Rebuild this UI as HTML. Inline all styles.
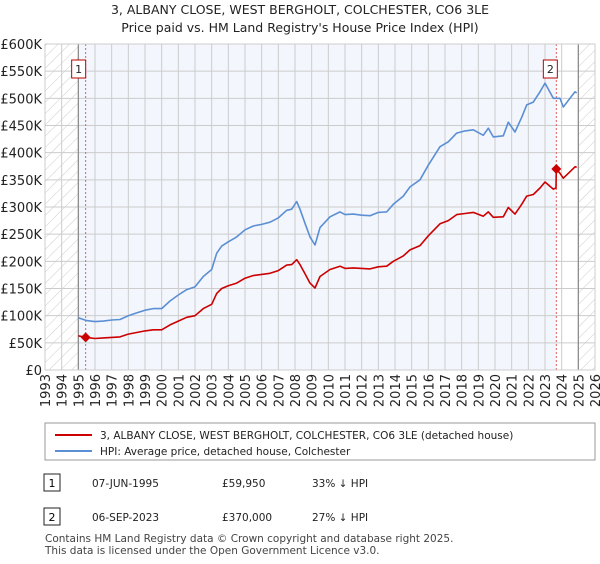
<!DOCTYPE html>
<html><head><meta charset="utf-8"><style>
body{margin:0;background:#fff;font-family:"DejaVu Sans",sans-serif;}
svg text{font-family:"DejaVu Sans","Liberation Sans",sans-serif;}
</style></head><body>
<svg id="c" width="600" height="560" viewBox="0 0 600 560" xmlns="http://www.w3.org/2000/svg">
<defs><pattern id="h" width="8" height="8" patternUnits="userSpaceOnUse" patternTransform="rotate(45)"><line x1="0" y1="0" x2="0" y2="8" stroke="#ccc" stroke-width="1"/></pattern></defs>
<text x="300" y="14" text-anchor="middle" font-size="12.5" fill="#222">3, ALBANY CLOSE, WEST BERGHOLT, COLCHESTER, CO6 3LE</text>
<text x="300" y="32" text-anchor="middle" font-size="12.5" fill="#222">Price paid vs. HM Land Registry's House Price Index (HPI)</text>
<g id="plot"></g>
<rect x="45" y="423" width="550" height="37" fill="#fff" stroke="#999"/>
<line x1="55" y1="435" x2="92" y2="435" stroke="#cc0000" stroke-width="2"/>
<text x="100" y="439" font-size="10.5" fill="#222">3, ALBANY CLOSE, WEST BERGHOLT, COLCHESTER, CO6 3LE (detached house)</text>
<line x1="55" y1="451" x2="92" y2="451" stroke="#5b8fd4" stroke-width="2"/>
<text x="100" y="455" font-size="10.5" fill="#222">HPI: Average price, detached house, Colchester</text>
<rect x="44" y="474" width="16" height="17" fill="#fff" stroke="#222"/>
<text x="52" y="487" text-anchor="middle" font-size="11">1</text>
<text x="92" y="487" font-size="10.5" fill="#222">07-JUN-1995</text>
<text x="222" y="487" font-size="10.5" fill="#222">£59,950</text>
<text x="312" y="487" font-size="10.5" fill="#222">33% ↓ HPI</text>
<rect x="44" y="508" width="16" height="17" fill="#fff" stroke="#222"/>
<text x="52" y="521" text-anchor="middle" font-size="11">2</text>
<text x="92" y="521" font-size="10.5" fill="#222">06-SEP-2023</text>
<text x="222" y="521" font-size="10.5" fill="#222">£370,000</text>
<text x="312" y="521" font-size="10.5" fill="#222">27% ↓ HPI</text>
<text x="45" y="542" font-size="10.5" fill="#444">Contains HM Land Registry data © Crown copyright and database right 2025.</text>
<text x="45" y="554" font-size="10.5" fill="#444">This data is licensed under the Open Government Licence v3.0.</text>
</svg>
<script>
const hpiYears=[1995.0,1995.5,1996,1996.5,1997,1997.5,1998,1998.5,1999,1999.5,2000,2000.5,2001,2001.5,2002,2002.5,2003,2003.3,2003.6,2004,2004.5,2005,2005.5,2006,2006.5,2007,2007.5,2007.8,2008.1,2008.3,2008.6,2008.9,2009.2,2009.5,2010.1,2010.7,2011,2011.5,2012,2012.5,2013,2013.5,2013.9,2014.5,2014.9,2015.5,2016,2016.7,2017.2,2017.7,2018.2,2018.7,2019.3,2019.6,2019.9,2020.5,2020.8,2021.2,2021.6,2021.9,2022.3,2022.7,2023,2023.5,2023.9,2024.1,2024.5,2024.8,2024.9];
const hpiValues=[96,91,89,90,92,93,100,105,110,113,113,127,138,148,153,172,185,215,228,236,245,258,265,268,272,280,294,296,310,296,270,245,230,262,282,291,286,287,285,284,290,291,305,320,337,350,377,411,420,436,440,442,432,445,429,431,456,438,465,488,493,512,528,500,500,484,500,512,510];
const priceYears=[1995.0,1995.44,1995.5,1996,1996.5,1997,1997.5,1998,1998.5,1999,1999.5,2000,2000.5,2001,2001.5,2002,2002.5,2003,2003.3,2003.6,2004,2004.5,2005,2005.5,2006,2006.5,2007,2007.5,2007.8,2008.1,2008.3,2008.6,2008.9,2009.2,2009.5,2010.1,2010.7,2011,2011.5,2012,2012.5,2013,2013.5,2013.9,2014.5,2014.9,2015.5,2016,2016.7,2017.2,2017.7,2018.2,2018.7,2019.3,2019.6,2019.9,2020.5,2020.8,2021.2,2021.6,2021.9,2022.3,2022.7,2023,2023.5,2023.66,2023.68,2023.9,2024.1,2024.5,2024.8,2024.9];
const priceValues=[63,60,60,58,59,60,61,66,69,72,74,74,83,90,97,100,113,121,141,150,155,160,169,174,176,178,183,193,194,203,194,177,160,151,172,185,191,187,188,187,186,190,191,200,210,221,229,247,269,275,286,288,290,283,291,281,282,299,287,305,320,323,335,346,333,335,370,362,353,365,374,373];
const saleYears=[1995.44,2023.68];
const saleValues=[59.95,370];
const saleLabels=["1","2"];
const yTicks=[0,50,100,150,200,250,300,350,400,450,500,550,600];
const yTickLabels=["£0","£50K","£100K","£150K","£200K","£250K","£300K","£350K","£400K","£450K","£500K","£550K","£600K"];
const xTicks=[1993,1994,1995,1996,1997,1998,1999,2000,2001,2002,2003,2004,2005,2006,2007,2008,2009,2010,2011,2012,2013,2014,2015,2016,2017,2018,2019,2020,2021,2022,2023,2024,2025,2026];

const L=45,R=595,T=44,B=370,X0=1993,X1=2026,YMAX=600;
const sx=y=>L+(y-X0)/(X1-X0)*(R-L);
const sy=v=>B-v/YMAX*(B-T);
const NS="http://www.w3.org/2000/svg";
const g=document.getElementById('plot');
function mk(tag,attrs,parent){const e=document.createElementNS(NS,tag);for(const k in attrs)e.setAttribute(k,attrs[k]);(parent||g).appendChild(e);return e;}

let e;
e=mk('rect',{x:L,y:T,width:R-L,height:B-T,fill:'#fff'});


e=mk('rect',{x:sx(1995),y:T,width:sx(saleYears[1])-sx(1995),height:B-T,fill:'#f3f6fd'});


e=mk('rect',{x:L,y:T,width:sx(1995)-L,height:B-T,fill:'url(#h)'});


e=mk('rect',{x:sx(2025),y:T,width:R-sx(2025),height:B-T,fill:'url(#h)'});



yTicks.forEach((v,i)=>{
  const l=mk('line',{x1:L,x2:R,y1:sy(v),y2:sy(v),stroke:'#ccc','stroke-width':1});
  
  
  const t=mk('text',{x:L-3,y:sy(v)+5,'text-anchor':'end','font-size':13,fill:'#222'});
  t.textContent=yTickLabels[i];
  
  
});
xTicks.forEach(yr=>{
  const l=mk('line',{x1:sx(yr),x2:sx(yr),y1:T,y2:B,stroke:'#ccc','stroke-width':1});
  
  
  const t=mk('text',{x:0,y:0,'text-anchor':'end','font-size':13,fill:'#222',transform:`translate(${sx(yr)+5},${B+4}) rotate(-90)`});
  t.textContent=yr;
  
  
});
[1995,2025].forEach(yr=>{
  const l=mk('line',{x1:sx(yr),x2:sx(yr),y1:T,y2:B,stroke:'#888','stroke-width':1.2});
  
  
});
saleYears.forEach((yr,i)=>{
  const l=mk('line',{x1:sx(yr),x2:sx(yr),y1:T,y2:B,stroke:'#e06060','stroke-width':1,'stroke-dasharray':'2,2'});
  
  
});
function path(xs,vs,color,name){
  const d=xs.map((x,i)=>(i?'L':'M')+sx(x).toFixed(1)+','+sy(vs[i]).toFixed(1)).join('');
  const p=mk('path',{d:d,fill:'none',stroke:color,'stroke-width':1.6,'stroke-linejoin':'round'});
  
  
}
path(hpiYears,hpiValues,'#5b8fd4','hpi-line');
path(priceYears,priceValues,'#cc0000','price-paid-line');
saleYears.forEach((yr,i)=>{
  const x=sx(yr),y=sy(saleValues[i]);
  const d=mk('path',{d:`M${x},${y-5}L${x+5},${y}L${x},${y+5}L${x-5},${y}Z`,fill:'#cc0000'});
  
  
  const bx=mk('rect',{x:(i?x-13:x-14),y:60,width:14,height:18,fill:'#fff',stroke:'#b00'});
  
  
  const t=mk('text',{x:(i?x-6:x-7),y:73,'text-anchor':'middle','font-size':11,fill:'#222'});
  t.textContent=saleLabels[i];
  
  
});
const br=mk('rect',{x:L,y:T,width:R-L,height:B-T,fill:'none',stroke:'#ccc'});


</script>
</body></html>
